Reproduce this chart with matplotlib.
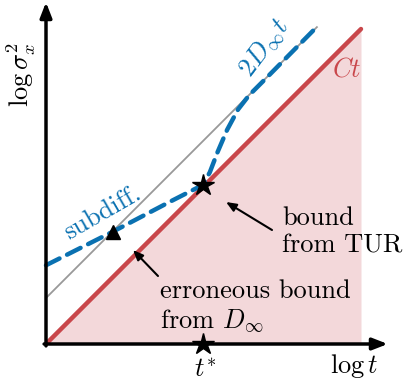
import matplotlib
matplotlib.use("Agg")
import matplotlib.pyplot as plt
import numpy as np

plt.rcParams['font.family'] = 'serif'
plt.rcParams['font.serif'] = ['cmr10', 'DejaVu Serif']
plt.rcParams['mathtext.fontset'] = 'cm'
plt.rcParams['axes.unicode_minus'] = False

# data (log-log schematic, normalised units)
red_x = [0.0, 1.0]
red_y = [0.0, 1.0]
gray_offset = 0.146
gray_x = [0.0, 0.86]
blue_x = [0.0, 0.213, 0.40, 0.498, 0.52, 0.545, 0.575, 0.61, 0.645, 0.70, 0.863]
blue_y = [0.25, 0.357, 0.455, 0.505, 0.545, 0.61, 0.68, 0.745, 0.79, 0.845, 1.01]
tri_pt = (0.213, 0.357)
star_pt = (0.498, 0.505)
tstar_x = 0.498

red = '#c9474b'
pink = '#f3d8da'
blue = '#0a71b1'

fig = plt.figure(figsize=(4.04, 3.83), dpi=100)
ax = fig.add_axes([0, 0, 1, 1])
ax.set_xlim(-46/315, (404-46)/315)
ax.set_ylim((344-383)/315, 344/315)
ax.axis('off')

ax.fill_between(red_x, [0, 0], red_y, color=pink, lw=0, zorder=1)
gx = np.array(gray_x)
ax.plot(gx, gx + gray_offset, color='#999999', lw=1.3, zorder=2)
ax.plot(red_x, red_y, color=red, lw=3.2, solid_capstyle='round', zorder=3)
ax.plot(blue_x, blue_y, color=blue, lw=3.2, ls=(0, (3.4, 1.9)), dash_capstyle='round', zorder=4)
ax.plot(*tri_pt, marker='^', color='black', ms=10, zorder=5)
ax.plot(*star_pt, marker='*', color='black', ms=16, zorder=5)
ax.plot(tstar_x, 0, marker='*', color='black', ms=16, zorder=6, clip_on=False)

# axes arrows
ax.annotate('', xy=(0, 1.085), xytext=(0, -0.006),
            arrowprops=dict(arrowstyle='-|>,head_length=0.9,head_width=0.35', color='black', lw=2.5, shrinkA=0, shrinkB=0), zorder=7)
ax.annotate('', xy=(1.085, 0), xytext=(-0.006, 0),
            arrowprops=dict(arrowstyle='-|>,head_length=0.9,head_width=0.35', color='black', lw=2.5, shrinkA=0, shrinkB=0), zorder=7)

fs = 19
ax.text((21-46)/315, (344-75)/315, r'$\log\sigma_x^2$', rotation=90, ha='center', va='center', fontsize=fs)
ax.text((354-46)/315, (344-366)/315, r'$\log t$', ha='center', va='center', fontsize=fs)
ax.text((205-46)/315, (344-370)/315, r'$t^{*}$', ha='center', va='center', fontsize=fs)
ax.text((347-46)/315, (344-70)/315, r'$Ct$', ha='center', va='center', fontsize=fs, color=red)
ax.text((264-46)/315, (344-48)/315, r'$2D_\infty t$', ha='center', va='center', fontsize=fs, color=blue, rotation=53)
ax.text((102-46)/315, (344-213)/315, 'subdiff.', ha='center', va='center', fontsize=fs, color=blue, rotation=30)
ax.text((282-46)/315, (344-232)/315, 'bound\nfrom TUR', ha='left', va='center', fontsize=fs, linespacing=1.2)
ax.text((160-46)/315, (344-307)/315, 'erroneous bound\nfrom $D_\\infty$', ha='left', va='center', fontsize=fs, linespacing=1.2)

ax.annotate('', xy=((226-46)/315, (344-202)/315), xytext=((272-46)/315, (344-230)/315),
            arrowprops=dict(arrowstyle='-|>,head_length=0.6,head_width=0.25', color='black', lw=1.5, shrinkA=0, shrinkB=0))
ax.annotate('', xy=((133-46)/315, (344-250)/315), xytext=((158-46)/315, (344-276)/315),
            arrowprops=dict(arrowstyle='-|>,head_length=0.6,head_width=0.25', color='black', lw=1.5, shrinkA=0, shrinkB=0))

fig.savefig('out.png', dpi=100)
